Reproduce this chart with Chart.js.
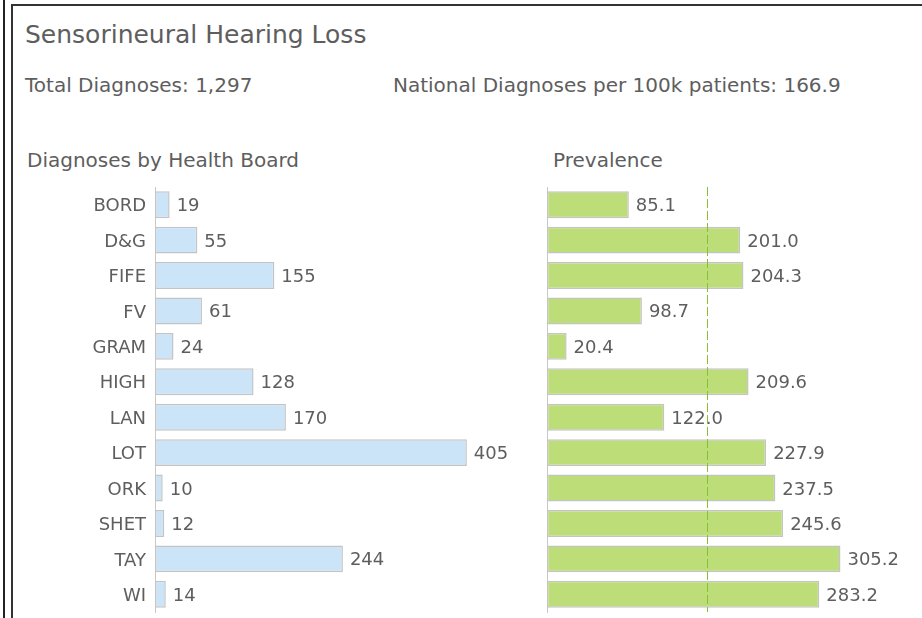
<!DOCTYPE html>
<html lang="en">
<head>
<meta charset="UTF-8">
<title>Sensorineural Hearing Loss</title>
<script src="https://cdn.jsdelivr.net/npm/chart.js"></script>
<style>
  body { margin: 0; background: #fff; width: 922px; height: 618px; overflow: hidden; position: relative;
         font-family: "DejaVu Sans", sans-serif; color: #5e5e5e; }
  .edge { position: absolute; left: 3px; top: 0; width: 2px; height: 618px; background: #222; }
  .panel { position: absolute; left: 11px; top: 4px; width: 930px; height: 640px;
           border-left: 2px solid #333; border-top: 2px solid #333; }
  .txt { position: absolute; white-space: nowrap; line-height: 1; }
  #chartL { position: absolute; left: 0; top: 187px; }
  #chartR { position: absolute; left: 520px; top: 187px; }
</style>
</head>
<body>
<div class="edge"></div>
<div class="panel"></div>
<div class="txt" style="left:25px;top:22px;font-size:25px;">Sensorineural Hearing Loss</div>
<div class="txt" style="left:25px;top:75px;font-size:20px;">Total Diagnoses: 1,297</div>
<div class="txt" style="left:393px;top:75px;font-size:20px;">National Diagnoses per 100k patients: 166.9</div>
<div class="txt" style="left:27px;top:150px;font-size:20px;">Diagnoses by Health Board</div>
<div class="txt" style="left:553px;top:150px;font-size:20px;">Prevalence</div>
<canvas id="chartL" width="530" height="431"></canvas>
<canvas id="chartR" width="402" height="431"></canvas>
<script>
// health boards, top to bottom
const boards = ['BORD', 'D&G', 'FIFE', 'FV', 'GRAM', 'HIGH', 'LAN', 'LOT', 'ORK', 'SHET', 'TAY', 'WI'];
const diagnoses = [19, 55, 155, 61, 24, 128, 170, 405, 10, 12, 244, 14];
const prevalence = [85.1, 201.0, 204.3, 98.7, 20.4, 209.6, 122.0, 227.9, 237.5, 245.6, 305.2, 283.2];
const nationalRate = 166.9;

const textColor = '#5e5e5e';
const fontFam = '"DejaVu Sans", sans-serif';

// writes each bar's value just past its end
const valueLabels = {
  id: 'valueLabels',
  afterDatasetsDraw(chart, args, opts) {
    const ctx = chart.ctx;
    const meta = chart.getDatasetMeta(0);
    ctx.save();
    ctx.font = '18px ' + fontFam;
    ctx.fillStyle = textColor;
    ctx.textBaseline = 'alphabetic';
    meta.data.forEach((bar, i) => {
      const v = chart.data.datasets[0].data[i];
      ctx.fillText(opts.fmt(v), bar.x + 7, bar.y + 6.5);
    });
    ctx.restore();
  }
};

// dashed national average line
const refLine = {
  id: 'refLine',
  afterDatasetsDraw(chart, args, opts) {
    if (opts.value == null) return;
    const ctx = chart.ctx;
    const x = Math.round(chart.scales.x.getPixelForValue(opts.value)) + 0.5;
    ctx.save();
    ctx.strokeStyle = '#84c232';
    ctx.lineWidth = 1;
    ctx.setLineDash([9, 3]);
    ctx.beginPath();
    ctx.moveTo(x, chart.chartArea.top);
    ctx.lineTo(x, chart.chartArea.bottom);
    ctx.stroke();
    ctx.restore();
  }
};

function barChart(id, values, fill, xmax, axisWidth, showTicks, fmt, ref) {
  return new Chart(document.getElementById(id), {
    type: 'bar',
    data: {
      labels: boards,
      datasets: [{
        data: values,
        backgroundColor: fill,
        borderColor: '#c4c4c4',
        borderWidth: 1.5,
        borderSkipped: false,
        barPercentage: 0.76,
        categoryPercentage: 1
      }]
    },
    options: {
      indexAxis: 'y',
      responsive: false,
      animation: false,
      layout: { padding: { top: 0, bottom: 6, left: 0, right: 0 } },
      plugins: {
        legend: { display: false },
        tooltip: { enabled: false },
        valueLabels: { fmt: fmt },
        refLine: { value: ref }
      },
      scales: {
        x: { display: false, min: 0, max: xmax },
        y: {
          grid: { display: false, drawTicks: false },
          border: { display: true, color: '#c8c8c8', width: 1 },
          ticks: {
            display: showTicks,
            color: textColor,
            font: { family: fontFam, size: 18 },
            padding: 9,
            labelOffset: 2
          },
          afterFit(scale) {
            scale.width = axisWidth;
            scale.paddingTop = 0;
            scale.paddingBottom = 0;
          }
        }
      }
    },
    plugins: [valueLabels, refLine]
  });
}

barChart('chartL', diagnoses, '#cce4f8', 487, 155, true, v => String(v), null);
barChart('chartR', prevalence, '#bcdd78', 390, 27, false, v => v.toFixed(1), nationalRate);
</script>
</body>
</html>
